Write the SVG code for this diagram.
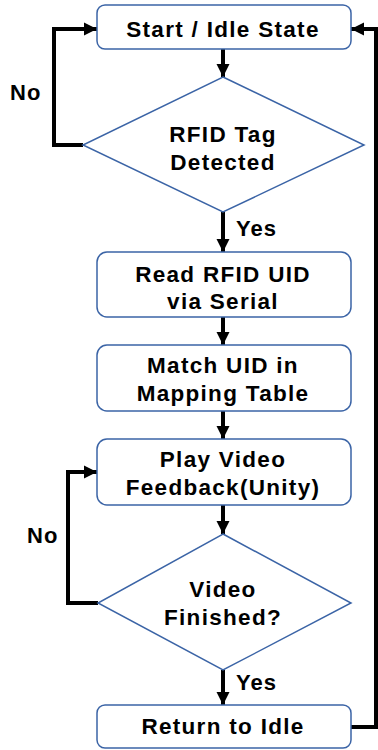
<svg xmlns="http://www.w3.org/2000/svg" width="378" height="750" viewBox="0 0 378 750">
<style>
.box{fill:#fff;stroke:#3B64A6;stroke-width:1.5}
.dia{fill:#fff;stroke:#3B64A6;stroke-width:1.5}
.t{font-family:"Liberation Sans",Arial,sans-serif;font-weight:bold;font-size:22.5px;letter-spacing:1.3px;fill:#000;text-anchor:middle}
.l{font-family:"Liberation Sans",Arial,sans-serif;font-weight:bold;font-size:22px;letter-spacing:1px;fill:#000}
.c{fill:none;stroke:#000;stroke-width:4}
</style>
<defs>
<marker id="ah" viewBox="0 0 10 10" refX="10" refY="5" markerWidth="3.3" markerHeight="3.3" markerUnits="strokeWidth" orient="auto">
<path d="M0,0 L10,5 L0,10 Z" fill="#000"/>
</marker>
</defs>
<g id="connectors">
<path class="c" d="M223,49 V77" marker-end="url(#ah)"/>
<path class="c" d="M83,145 H54 V29 H97" marker-end="url(#ah)"/>
<path class="c" d="M223,212 V252" marker-end="url(#ah)"/>
<path class="c" d="M223,317 V345" marker-end="url(#ah)"/>
<path class="c" d="M223,411 V439" marker-end="url(#ah)"/>
<path class="c" d="M223,505 V534" marker-end="url(#ah)"/>
<path class="c" d="M98,603 H68 V472 H97" marker-end="url(#ah)"/>
<path class="c" d="M223,670 V705" marker-end="url(#ah)"/>
<path class="c" d="M351,727 H376 V29 H351" marker-end="url(#ah)"/>
<text class="l" x="10" y="100">No</text>
<text class="l" x="236" y="236">Yes</text>
<text class="l" x="27" y="543">No</text>
<text class="l" x="236" y="690">Yes</text>
</g>
<g id="start">
<rect class="box" x="97" y="5" width="254" height="44" rx="8"/>
<text class="t" x="223" y="37">Start / Idle State</text>
</g>
<g id="detect">
<polygon class="dia" points="223,77 364,145 223,212 83,145"/>
<text class="t" x="223" y="141.5">RFID Tag</text>
<text class="t" x="223" y="170">Detected</text>
</g>
<g id="read">
<rect class="box" x="97" y="252" width="254" height="65" rx="10"/>
<text class="t" x="223" y="281.5">Read RFID UID</text>
<text class="t" x="223" y="308.5">via Serial</text>
</g>
<g id="match">
<rect class="box" x="97" y="345" width="254" height="66" rx="10"/>
<text class="t" x="223" y="373">Match UID in</text>
<text class="t" x="223" y="401">Mapping Table</text>
</g>
<g id="play">
<rect class="box" x="97" y="439" width="254" height="66" rx="10"/>
<text class="t" x="223" y="467">Play Video</text>
<text class="t" x="223" y="495">Feedback(Unity)</text>
</g>
<g id="finished">
<polygon class="dia" points="223,534 351,603 223,670 98,603"/>
<text class="t" x="223" y="597">Video</text>
<text class="t" x="223" y="625">Finished?</text>
</g>
<g id="return">
<rect class="box" x="97" y="705" width="254" height="43" rx="8"/>
<text class="t" x="223" y="734">Return to Idle</text>
</g>
</svg>
